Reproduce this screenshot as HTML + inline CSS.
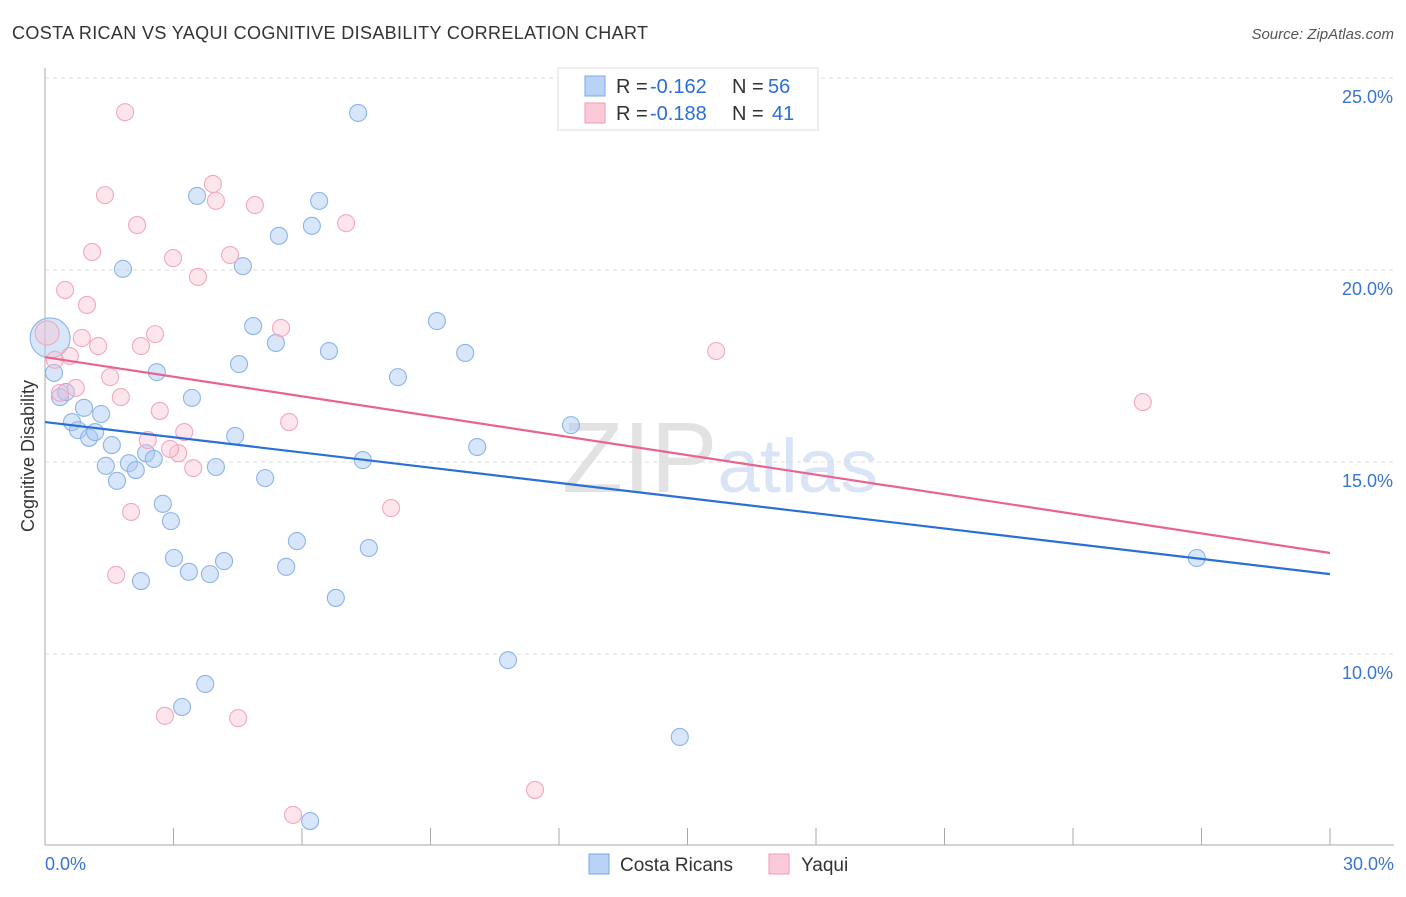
<!DOCTYPE html>
<html><head><meta charset="utf-8"><style>
body{margin:0;background:#fff;font-family:"Liberation Sans",sans-serif;}
svg text{font-family:"Liberation Sans",sans-serif;}
</style></head><body>
<svg id="chart" width="1406" height="892" viewBox="0 0 1406 892" xmlns="http://www.w3.org/2000/svg">
<text x="12" y="39" font-size="18" fill="#333" textLength="636">COSTA RICAN VS YAQUI COGNITIVE DISABILITY CORRELATION CHART</text>
<text x="1394" y="39" font-size="15" fill="#555" text-anchor="end" font-style="italic">Source: ZipAtlas.com</text>
<text x="720" y="492" font-size="100" fill="#e6e6e6" text-anchor="middle" font-family="Liberation Serif"><tspan fill="#e2e2e2">ZIP</tspan><tspan fill="#d9e5f6" font-family="Liberation Sans" font-size="76">atlas</tspan></text>
<g id="grid"></g>
<g id="axes"></g>
<text transform="translate(34,456) rotate(-90)" font-size="18" fill="#333" text-anchor="middle">Cognitive Disability</text>
<g id="points"></g>
<g id="lines"></g>
<g>
<rect x="558" y="68" width="260" height="62" fill="#fff" stroke="#ddd"/>
<rect x="585" y="76" width="20" height="20" fill="#b8d3f5" stroke="#7aa8e6"/>
<rect x="585" y="103" width="20" height="20" fill="#fbcad8" stroke="#f09ab4"/>
<text x="616" y="93" font-size="20" fill="#333">R =</text>
<text x="650" y="93" font-size="20" fill="#2b6fd6">-0.162</text>
<text x="732" y="93" font-size="20" fill="#333">N =</text>
<text x="768" y="93" font-size="20" fill="#2b6fd6">56</text>
<text x="616" y="120" font-size="20" fill="#333">R =</text>
<text x="650" y="120" font-size="20" fill="#2b6fd6">-0.188</text>
<text x="732" y="120" font-size="20" fill="#333">N =</text>
<text x="772" y="120" font-size="20" fill="#2b6fd6">41</text>
</g>
<g>
<rect x="589" y="854" width="20" height="20" fill="#b8d3f5" stroke="#7aa8e6"/>
<text x="620" y="871" font-size="19" fill="#333">Costa Ricans</text>
<rect x="769" y="854" width="20" height="20" fill="#fbcad8" stroke="#f09ab4"/>
<text x="801" y="871" font-size="19" fill="#333">Yaqui</text>
</g>
</svg>
<script>
const blueX=[7.31,3.55,6.40,5.46,6.23,1.82,4.62,4.86,5.39,6.63,9.15,9.81,4.53,8.24,2.61,0.21,0.35,0.49,3.43,0.91,1.31,0.63,0.77,1.03,1.17,4.44,1.56,2.36,2.54,1.96,1.42,2.12,3.99,7.42,10.09,12.28,1.68,5.14,2.75,2.94,5.88,7.56,3.01,4.18,5.63,3.36,3.85,2.24,6.79,10.81,3.74,3.20,14.82,6.19,26.89,0.12];
const blueY=[24.09,21.93,21.80,20.89,21.15,20.03,20.10,18.54,18.10,17.89,18.67,17.84,17.55,17.21,17.34,17.32,16.69,16.82,16.67,16.41,16.25,16.04,15.83,15.63,15.78,15.68,15.44,15.23,15.08,14.97,14.90,14.79,14.87,15.05,15.39,15.96,14.51,14.58,13.91,13.46,12.94,12.76,12.50,12.42,12.27,12.14,12.08,11.90,11.46,9.84,9.22,8.62,7.84,5.65,12.50,18.23];
const pinkX=[1.87,1.40,3.92,3.99,4.90,2.15,7.03,1.10,2.99,4.32,3.57,0.47,0.98,2.57,0.86,5.51,1.24,2.24,15.67,0.58,0.23,1.52,0.72,0.35,1.77,2.68,5.70,3.25,2.40,3.11,2.92,3.46,25.63,2.01,8.08,1.66,2.80,4.51,11.44,5.79,0.05];
const pinkY=[24.11,21.95,22.24,21.80,21.69,21.17,21.22,20.47,20.31,20.39,19.82,19.48,19.09,18.33,18.23,18.49,18.02,18.02,17.89,17.76,17.66,17.21,16.93,16.80,16.69,16.33,16.04,15.78,15.57,15.23,15.34,14.84,16.56,13.70,13.80,12.06,8.39,8.33,6.46,5.81,18.36];
const blueTrend=[16.04,12.08];
const pinkTrend=[17.73,12.63];
const yTicks=[25,20,15,10];
const yTickLabels=["25.0%","20.0%","15.0%","10.0%"];
const xTicks=[0,3,6,9,12,15,18,21,24,27,30];
const NS="http://www.w3.org/2000/svg";
const sx=v=>45+v*1285/30, sy=v=>78+(25-v)*38.4;
function mk(t,a,p){const e=document.createElementNS(NS,t);for(const k in a)e.setAttribute(k,a[k]);p.appendChild(e);return e;}
const grid=document.getElementById('grid'),axes=document.getElementById('axes');
yTicks.forEach((t,i)=>{
 const l=mk('line',{x1:45,x2:1394,y1:sy(t),y2:sy(t),stroke:'#ddd','stroke-dasharray':'4,4'},grid);
 
 
 const tx=mk('text',{x:1393,y:sy(t)+25,'font-size':18,fill:'#3a74d0','text-anchor':'end'},axes);
 tx.textContent=yTickLabels[i];
 
 
});
let ax=mk('line',{x1:45,x2:45,y1:68,y2:845,stroke:'#aaa'},axes);


ax=mk('line',{x1:45,x2:1394,y1:845,y2:845,stroke:'#aaa'},axes);


xTicks.forEach(t=>{const l=mk('line',{x1:sx(t),x2:sx(t),y1:828,y2:845,stroke:'#aaa'},axes);
 
 });
let t0=mk('text',{x:45,y:870,'font-size':18,fill:'#3a74d0'},axes);t0.textContent='0.0%';


let t1=mk('text',{x:1394,y:870,'font-size':18,fill:'#3a74d0','text-anchor':'end'},axes);t1.textContent='30.0%';


const pts=document.getElementById('points');
blueX.forEach((x,i)=>{const c=mk('circle',{cx:sx(x),cy:sy(blueY[i]),r:i===blueX.length-1?20:8.5,fill:'rgba(168,200,242,0.45)',stroke:'#8cb4ea','stroke-width':1.1},pts);
 
 });
pinkX.forEach((x,i)=>{const c=mk('circle',{cx:sx(x),cy:sy(pinkY[i]),r:i===pinkX.length-1?12:8.5,fill:'rgba(250,190,208,0.4)',stroke:'#f2a8be','stroke-width':1.1},pts);
 
 });
const lines=document.getElementById('lines');
let bl=mk('line',{x1:sx(0),x2:sx(30),y1:sy(blueTrend[0]),y2:sy(blueTrend[1]),stroke:'#2a6fd8','stroke-width':2.2},lines);


let pl=mk('line',{x1:sx(0),x2:sx(30),y1:sy(pinkTrend[0]),y2:sy(pinkTrend[1]),stroke:'#e8648e','stroke-width':2.2},lines);


</script>
</body></html>
